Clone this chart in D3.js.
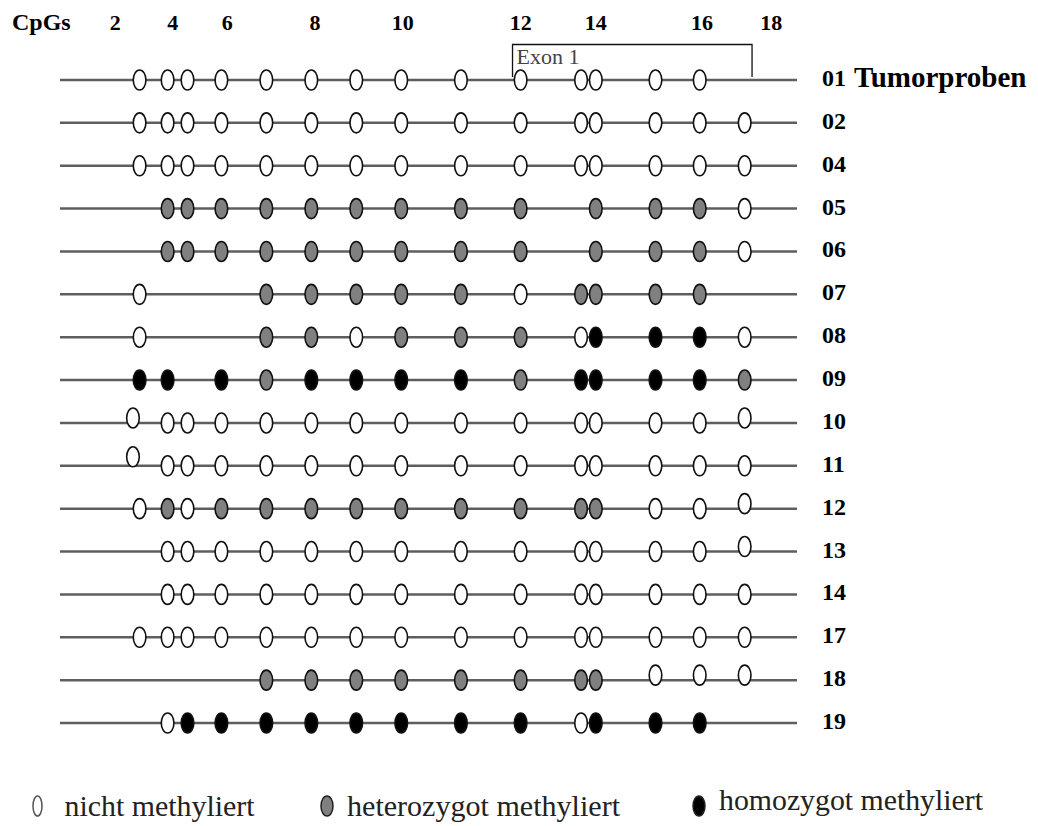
<!DOCTYPE html>
<html>
<head>
<meta charset="utf-8">
<script src="https://cdn.jsdelivr.net/npm/d3@7/dist/d3.min.js"></script>
<style>
    body { margin: 0; background: #fff; }
    #chart-area { width: 1038px; height: 826px; }
</style>
</head>
<body>
<div id="chart-area"></div>
<script>
// CpG sites along the fragment, in % of the drawn stretch
var sitePos = [9.9, 10.8, 14.6, 17.3, 21.9, 28.0, 34.1, 40.2, 46.3, 54.4, 62.5, 70.7, 72.7, 80.8, 86.8, 92.9]
var tickLabels = ["2", "4", "6", "8", "10", "12", "14", "16", "18"]
var tickPos = [7.5, 15.3, 22.7, 34.6, 46.5, 62.5, 72.7, 87.1, 96.5]
var exonSpan = [61.4, 93.9]
var sampleIds = ["01", "02", "04", "05", "06", "07", "08", "09", "10", "11", "12", "13", "14", "17", "18", "19"]
// one char per site: u nicht, h heterozygot, m homozygot, - none, U/V nicht (drawn lifted)
var states = [
    "-uuuuuuuuuuuuuu-",
    "-uuuuuuuuuuuuuuu",
    "-uuuuuuuuuuuuuuu",
    "--hhhhhhhhh-hhhu",
    "--hhhhhhhhh-hhhu",
    "-u---hhhhhuhhhh-",
    "-u---hhuhhhummmu",
    "-mm-mhmmmmhmmmmh",
    "U-uuuuuuuuuuuuuU",
    "V-uuuuuuuuuuuuuu",
    "-uhuhhhhhhhhhuuU",
    "--uuuuuuuuuuuuuU",
    "--uuuuuuuuuuuuuu",
    "-uuuuuuuuuuuuuuu",
    "-----hhhhhhhhUUU",
    "--ummmmmmmmummm-"
]
var legendStates = ["u", "h", "m"]
var legendLabels = ["nicht methyliert", "heterozygot methyliert", "homozygot methyliert"]

function init() {
    var svgWidth = 1038
    var svgHeight = 826
    var serif = "'Liberation Serif', 'Times New Roman', serif"

    var svg = d3.select("#chart-area")
        .append("svg")
        .attr("width", svgWidth)
        .attr("height", svgHeight)

    var xScale = d3.scaleLinear()
        .domain([0, 100])
        .range([60, 797])

    var yScale = d3.scalePoint()
        .domain(sampleIds)
        .range([80, 723])

    var fillFor = { u: "#fff", U: "#fff", V: "#fff", h: "#808080", m: "#000" }
    var liftFor = { U: 5, V: 9 }

    //header
    svg.append("text")
        .attr("x", 12)
        .attr("y", 30)
        .attr("font-family", serif)
        .attr("font-weight", "bold")
        .attr("font-size", "24px")
        .text("CpGs")

    svg.append("g")
        .selectAll("text")
        .data(tickLabels)
        .enter()
        .append("text")
        .attr("x", (d, i) => xScale(tickPos[i]))
        .attr("y", 30)
        .attr("text-anchor", "middle")
        .attr("font-family", serif)
        .attr("font-weight", "bold")
        .attr("font-size", "22px")
        .text(d => d)

    // exon bracket
    svg.append("path")
        .attr("d", "M" + xScale(exonSpan[0]) + ",77V44.5H" + xScale(exonSpan[1]) + "V77")
        .attr("fill", "none")
        .attr("stroke", "#111")
        .attr("stroke-width", 1.3)

    svg.append("text")
        .attr("x", xScale(exonSpan[0]) + 4)
        .attr("y", 64)
        .attr("font-family", serif)
        .attr("font-size", "22px")
        .attr("fill", "#444")
        .text("Exon 1")

    // sample rows
    var rows = svg.append("g")
        .selectAll("g")
        .data(sampleIds)
        .enter()
        .append("g")
        .attr("transform", d => "translate(0," + yScale(d) + ")")

    rows.append("line")
        .attr("x1", xScale(0))
        .attr("x2", xScale(100))
        .attr("stroke", "#5e5e5e")
        .attr("stroke-width", 2.5)

    rows.selectAll("ellipse")
        .data((d, i) => states[i].split("").map((s, j) => ({ s: s, pos: sitePos[j] })).filter(c => c.s != "-"))
        .enter()
        .append("ellipse")
        .attr("cx", c => xScale(c.pos))
        .attr("cy", c => -(liftFor[c.s] || 0))
        .attr("rx", 6.3)
        .attr("ry", 10)
        .attr("fill", c => fillFor[c.s])
        .attr("stroke", "#111")
        .attr("stroke-width", 1.6)

    rows.append("text")
        .attr("x", 822)
        .attr("y", 6)
        .attr("font-family", serif)
        .attr("font-weight", "bold")
        .attr("font-size", "24px")
        .text(d => d)

    svg.append("text")
        .attr("x", 854)
        .attr("y", yScale(sampleIds[0]) + 7)
        .attr("font-family", serif)
        .attr("font-weight", "bold")
        .attr("font-size", "29px")
        .text("Tumorproben")

    // legend
    var legendX = [37.5, 327, 699]
    var legendW = [190, 273, 264]
    var legend = svg.append("g")
        .selectAll("g")
        .data(legendStates)
        .enter()
        .append("g")
        .attr("transform", (d, i) => "translate(" + legendX[i] + ",806)")

    legend.append("ellipse")
        .attr("rx", (d, i) => i == 0 ? 4.5 : 6)
        .attr("ry", 10)
        .attr("fill", d => fillFor[d])
        .attr("stroke", (d, i) => i == 0 ? "#555" : "#222")
        .attr("stroke-width", 1.5)

    legend.append("text")
        .attr("x", (d, i) => i == 0 ? 27 : 20)
        .attr("y", (d, i) => i == 2 ? 4 : 10)
        .attr("font-family", serif)
        .attr("font-size", "30px")
        .attr("fill", "#222")
        .attr("textLength", (d, i) => legendW[i])
        .attr("lengthAdjust", "spacingAndGlyphs")
        .text((d, i) => legendLabels[i])
}

window.addEventListener('load', init, false)
</script>
</body>
</html>
